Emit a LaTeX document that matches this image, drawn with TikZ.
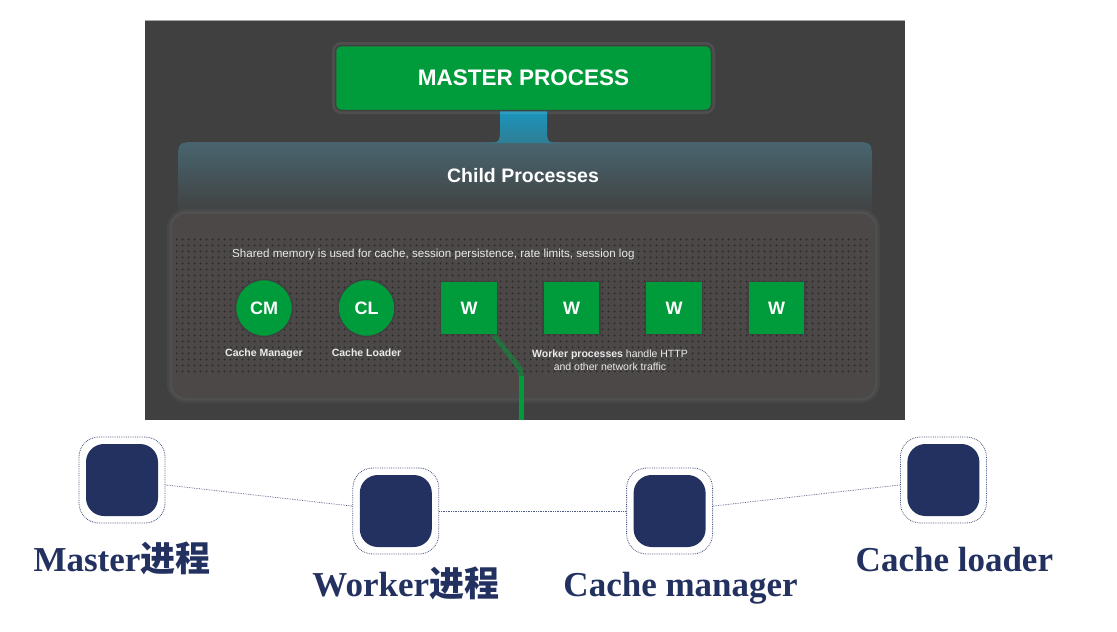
\documentclass[tikz,border=0pt]{standalone}
\usepackage{fontspec}
\setmainfont{Liberation Serif}
\newfontfamily\cjk{Noto Sans CJK SC}
\newfontfamily\uisans{Liberation Sans}
\usetikzlibrary{positioning,patterns.meta}

\definecolor{panel}{HTML}{404040}
\definecolor{procgreen}{HTML}{009B3A}
\definecolor{navy}{HTML}{22315F}
\definecolor{dotbg}{HTML}{4C4848}
\definecolor{dotfg}{HTML}{2B2828}
\definecolor{stemteal}{HTML}{1A95BD}
\definecolor{stemlow}{HTML}{2F7E95}
\definecolor{childtop}{HTML}{48656F}

\tikzdeclarepattern{
  name=memdots,
  type=uncolored,
  bottom left={(0pt,0pt)},
  top right={(6pt,6pt)},
  tile size={(6pt,6pt)},
  code={\fill (3pt,3pt) circle (1.2pt);}
}

\tikzset{
  greenbox/.style={fill=procgreen, draw=black!75, line width=1.5pt, text=white,
    font=\uisans\bfseries\fontsize{18}{21}\selectfont, inner sep=0pt},
  cache/.style={greenbox, circle, minimum size=57pt},
  worker/.style={greenbox, rectangle, minimum width=57pt, minimum height=53pt},
  note/.style={text=white!92!black, font=\uisans\fontsize{10.5}{13}\selectfont, inner sep=0pt},
  procbox/.style={draw=navy!85, densely dotted, line width=0.8pt, fill=white,
    rounded corners=20pt, minimum size=86pt, inner sep=0pt},
  procfill/.style={fill=navy, rounded corners=18pt, minimum size=72pt, inner sep=0pt},
  proclabel/.style={text=navy, font=\bfseries\fontsize{35}{40}\selectfont,
    anchor=base, inner sep=0pt},
  link/.style={draw=navy!80, densely dotted, line width=0.7pt},
  wire/.style={draw=procgreen, line width=5pt}
}

\begin{document}
\begin{tikzpicture}[x=1pt,y=-1pt]

  \fill[white] (0,0) rectangle (1117,632);
  \useasboundingbox (0,0) rectangle (1117,632);

  % Screenshot panel
  \fill[panel] (145,20) rectangle (905,420);
  \draw[black!35, line width=1pt] (145,20.5) -- (905,20.5);

  % Child processes band with its stem
  \shade[top color=childtop, bottom color=panel]
    (178,215) -- (178,162) .. controls (178,142) .. (198,142) -- (872-20,142)
    .. controls (872,142) .. (872,162) -- (872,215) -- cycle;
  \shade[top color=stemteal, bottom color=stemlow]
    (484,143) .. controls (500,143) .. (500,127) -- (500,111) -- (547,111) -- (547,127)
    .. controls (547,143) .. (563,143) -- cycle;

  % Shared memory area
  \fill[dotbg, rounded corners=14pt,
        preaction={draw=white, opacity=0.04, line width=10pt},
        preaction={draw=white, opacity=0.05, line width=5pt}]
    (172,214) rectangle (875,398);
  \fill[pattern=memdots, pattern color=dotfg] (176,237) rectangle (871,374);

  % Define nodes
  \node[greenbox, rounded corners=6pt, minimum width=376pt, minimum height=65pt,
        font=\uisans\bfseries\fontsize{22.5}{26}\selectfont,
        preaction={draw=white, opacity=0.08, line width=7pt}]
        (master) at (523.5,78) {MASTER PROCESS};
  \node[text=white, font=\uisans\bfseries\fontsize{19.5}{23}\selectfont]
        (child) at (523,176) {Child Processes};
  \node[note, anchor=west, font=\uisans\fontsize{11.6}{14}\selectfont] (shared) at (232,254)
        {Shared memory is used for cache, session persistence, rate limits, session log};

  \node[cache]                  (cm) at (264,308) {CM};
  \node[cache, right=44pt of cm] (cl) {CL};
  \node[worker, right=44pt of cl] (w1) {W};
  \node[worker, right=44pt of w1] (w2) {W};
  \node[worker, right=44pt of w2] (w3) {W};
  \node[worker, right=44pt of w3] (w4) {W};

  \node[note, font=\uisans\bfseries\fontsize{10.5}{13}\selectfont, below=11pt of cm] (cm-l) {Cache Manager};
  \node[note, font=\uisans\bfseries\fontsize{10.5}{13}\selectfont, below=11pt of cl] (cl-l) {Cache Loader};
  \node[note, align=center] (w-l) at (610,360)
        {\textbf{Worker processes} handle HTTP\\and other network traffic};

  % Connect the nodes
  \coordinate (bend) at (521,376);
  \coordinate (exit) at (521,420);
  \draw[wire, opacity=0.5] ([xshift=25pt]w1.south) -- (514,361) .. controls (521,370) .. (bend);
  \draw[wire] (bend) -- (exit);

  % Process row
  \node[procbox]                                  (master-n) at (122,480) {};
  \node[procbox, right=187pt of master-n, yshift=-31pt] (worker-n) {};
  \node[procbox, right=187pt of worker-n]          (cm-n) {};
  \node[procbox, right=187pt of cm-n, yshift=31pt] (cl-n) {};

  \foreach \n in {master-n,worker-n,cm-n,cl-n}
    \node[procfill] (\n-f) at (\n) {};

  \draw[link] (master-n) -- (worker-n);
  \draw[link] (worker-n) -- (cm-n);
  \draw[link] (cm-n) -- (cl-n);

  \node[proclabel] (master-l) at ([yshift=-48pt]master-n.south) {Master{\cjk 进程}};
  \node[proclabel] (worker-l) at ([xshift=10pt,yshift=-42pt]worker-n.south) {Worker{\cjk 进程}};
  \node[proclabel] (cm-l2) at ([xshift=11pt,yshift=-42pt]cm-n.south) {Cache manager};
  \node[proclabel] (cl-l2) at ([xshift=11pt,yshift=-48pt]cl-n.south) {Cache loader};

\end{tikzpicture}
\end{document}
